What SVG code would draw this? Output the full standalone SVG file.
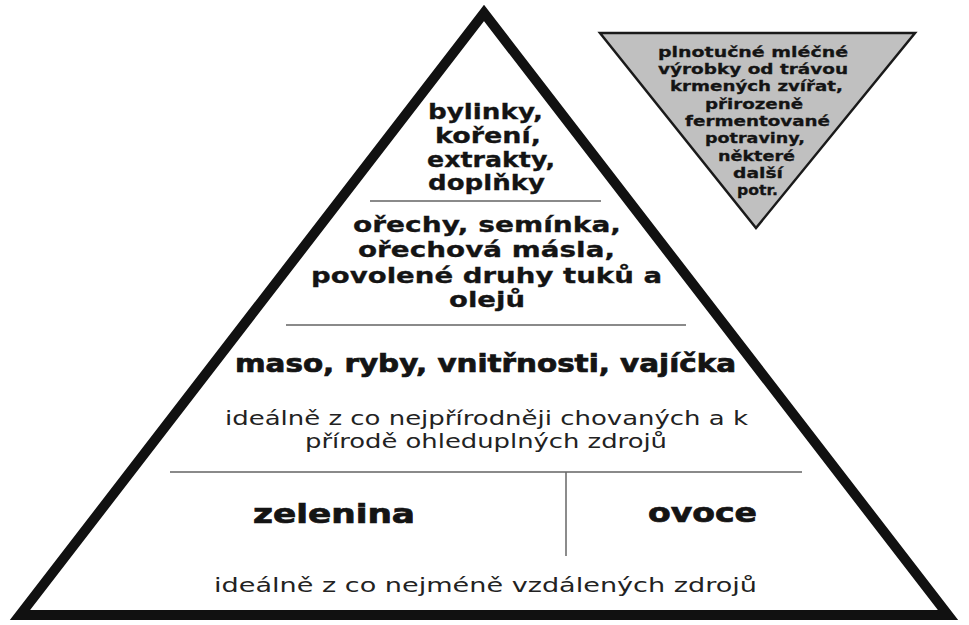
<svg xmlns="http://www.w3.org/2000/svg" width="969" height="625" viewBox="0 0 969 625">
<style>
.b{font-family:"DejaVu Sans","Liberation Sans",sans-serif;font-weight:bold;fill:#141414;stroke:#141414;stroke-width:0.3}
.r{font-family:"DejaVu Sans","Liberation Sans",sans-serif;fill:#222}
.hv{stroke-width:0.7}
.sep{stroke:#8a8a8a;stroke-width:2}
</style>
<rect width="969" height="625" fill="#fff"/>
<g id="pyramid">
<polygon points="484,13 20,615 948,615" fill="#fff" stroke="#111" stroke-width="10" stroke-linejoin="miter"/>
</g>
<g id="connectors">
<line class="sep" x1="370" y1="201" x2="601" y2="201" stroke="#9a9a9a"/>
<line class="sep" x1="286" y1="325" x2="686" y2="325"/>
<line class="sep" x1="170" y1="472" x2="802" y2="472"/>
<line x1="566" y1="472" x2="566" y2="556" stroke="#666" stroke-width="1.5"/>
</g>
<g id="dairy">
<polygon points="600,33 915,33 756,228" fill="#c0c0c0" stroke="#1a1a1a" stroke-width="2.5" stroke-linejoin="miter"/>
<g class="b" font-size="14.5">
<text x="658" y="57" textLength="190" lengthAdjust="spacingAndGlyphs">plnotučné mléčné</text>
<text x="658" y="74" textLength="190" lengthAdjust="spacingAndGlyphs">výrobky od trávou</text>
<text x="670" y="91" textLength="173" lengthAdjust="spacingAndGlyphs">krmených zvířat,</text>
<text x="705" y="109" textLength="98" lengthAdjust="spacingAndGlyphs">přirozeně</text>
<text x="685" y="126" textLength="145" lengthAdjust="spacingAndGlyphs">fermentované</text>
<text x="705" y="143" textLength="100" lengthAdjust="spacingAndGlyphs">potraviny,</text>
<text x="718" y="161" textLength="77" lengthAdjust="spacingAndGlyphs">některé</text>
<text x="733" y="178" textLength="50" lengthAdjust="spacingAndGlyphs">další</text>
<text x="737" y="195" textLength="41" lengthAdjust="spacingAndGlyphs">potr.</text>
</g>
</g>
<g id="herbs" class="b" font-size="21">
<text x="428" y="119" textLength="115" lengthAdjust="spacingAndGlyphs">bylinky,</text>
<text x="435" y="143" textLength="106" lengthAdjust="spacingAndGlyphs">koření,</text>
<text x="427" y="167" textLength="128" lengthAdjust="spacingAndGlyphs">extrakty,</text>
<text x="428" y="190" textLength="117" lengthAdjust="spacingAndGlyphs">doplňky</text>
</g>
<g id="nuts" class="b" font-size="21.5">
<text x="353" y="232" textLength="268" lengthAdjust="spacingAndGlyphs">ořechy, semínka,</text>
<text x="358" y="257" textLength="257" lengthAdjust="spacingAndGlyphs">ořechová másla,</text>
<text x="311" y="283" textLength="351" lengthAdjust="spacingAndGlyphs">povolené druhy tuků a</text>
<text x="449" y="307" textLength="76" lengthAdjust="spacingAndGlyphs">olejů</text>
</g>
<g id="meat">
<text class="b hv" font-size="24" x="235" y="372" textLength="501" lengthAdjust="spacingAndGlyphs">maso, ryby, vnitřnosti, vajíčka</text>
<text class="r" font-size="19.5" x="225" y="425" textLength="523" lengthAdjust="spacingAndGlyphs">ideálně z co nejpřírodněji chovaných a k</text>
<text class="r" font-size="19.5" x="305" y="448" textLength="362" lengthAdjust="spacingAndGlyphs">přírodě ohleduplných zdrojů</text>
</g>
<g id="vegetables">
<text class="b hv" font-size="26" x="253" y="523" textLength="162" lengthAdjust="spacingAndGlyphs">zelenina</text>
</g>
<g id="fruit">
<text class="b hv" font-size="26" x="648" y="522" textLength="109" lengthAdjust="spacingAndGlyphs">ovoce</text>
</g>
<g id="base">
<text class="r" font-size="19.5" x="214" y="592" textLength="543" lengthAdjust="spacingAndGlyphs">ideálně z co nejméně vzdálených zdrojů</text>
</g>
</svg>
